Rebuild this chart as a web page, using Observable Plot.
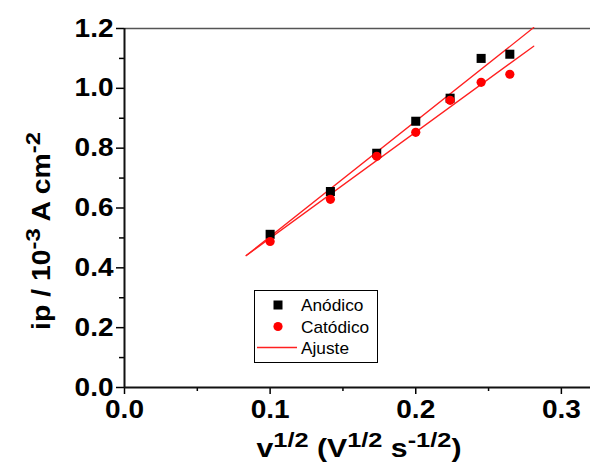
<!DOCTYPE html>
<html><head><meta charset="utf-8">
<script src="https://cdn.jsdelivr.net/npm/d3@7"></script>
<script src="https://cdn.jsdelivr.net/npm/@observablehq/plot@0.6"></script>
<style>body{margin:0;background:#fff}</style>
</head><body><div id="chart"></div>
<script>
const xVals = [0.1, 0.1414, 0.1732, 0.2, 0.2236, 0.2449, 0.2646];
const anodico = [0.512, 0.655, 0.783, 0.89, 0.967, 1.10, 1.114];
const catodico = [0.488, 0.629, 0.773, 0.853, 0.96, 1.02, 1.047];
const fitX = [0.0836, 0.281];
const fitAnodico = [0.441, 1.203];
const fitCatodico = [0.441, 1.141];
const xTicks = [0, 0.1, 0.2, 0.3];
const xMinor = [0.05, 0.15, 0.25];
const yTicks = [0, 0.2, 0.4, 0.6, 0.8, 1.0, 1.2];
const yMinor = [0.1, 0.3, 0.5, 0.7, 0.9, 1.1];
const legendLabels = ["Anódico", "Catódico", "Ajuste"];

const ptsA = xVals.map((x, i) => ({x, y: anodico[i]}));
const ptsC = xVals.map((x, i) => ({x, y: catodico[i]}));
const lineA = fitX.map((x, i) => ({x, y: fitAnodico[i]}));
const lineC = fitX.map((x, i) => ({x, y: fitCatodico[i]}));

const font = "Liberation Sans, Arial, sans-serif";
const svg = Plot.plot({
  width: 591, height: 464,
  marginLeft: 124, marginRight: 1, marginTop: 28, marginBottom: 77,
  style: {fontFamily: font, background: "#fff", color: "#000", overflow: "visible"},
  x: {domain: [0, 0.32]},
  y: {domain: [0, 1.2]},
  marks: [
    Plot.axisX({ticks: xTicks, tickSize: 7, tickPadding: 6, tickFormat: d3.format(".1f"), fontSize: 25, fontWeight: "bold", label: null, strokeWidth: 1.5}),
    Plot.axisX({ticks: xMinor, tickSize: 4, tickFormat: () => "", label: null, strokeWidth: 1.5}),
    Plot.axisY({ticks: yTicks, tickSize: 8, tickPadding: 3, tickFormat: d3.format(".1f"), fontSize: 25, fontWeight: "bold", label: null, strokeWidth: 1.5}),
    Plot.axisY({ticks: yMinor, tickSize: 5, tickFormat: () => "", label: null, strokeWidth: 1.5}),
    Plot.ruleY([1.2], {stroke: "#555", strokeWidth: 1.5}),
    Plot.ruleX([0], {stroke: "#111", strokeWidth: 2}),
    Plot.ruleY([0], {stroke: "#111", strokeWidth: 2}),
    Plot.line(lineA, {x: "x", y: "y", stroke: "#ff2020", strokeWidth: 1.3}),
    Plot.line(lineC, {x: "x", y: "y", stroke: "#ff2020", strokeWidth: 1.3}),
    Plot.dot(ptsA, {x: "x", y: "y", symbol: "square", r: 5.1, fill: "#000", stroke: "none"}),
    Plot.dot(ptsC, {x: "x", y: "y", symbol: "circle", r: 4.6, fill: "#ff0000", stroke: "none"})
  ]
});
document.getElementById("chart").appendChild(svg);

const s = d3.select(svg);
// horizontally stretch tick labels to match the reference
s.selectAll("g[aria-label='x-axis tick label'] text, g[aria-label='y-axis tick label'] text").each(function() {
  const t = this.getAttribute("transform") || "";
  this.setAttribute("transform", t + " scale(1.12,1)");
});

function richLabel(parts, mainSize, supSize) {
  const t = s.append("text")
    .attr("text-anchor", "middle")
    .attr("font-family", font).attr("font-weight", "bold").attr("font-size", mainSize).attr("fill", "#000");
  let raised = false;
  for (const [str, sup] of parts) {
    const sp = t.append("tspan").text(str);
    if (sup && !raised) { sp.attr("dy", -10).attr("font-size", supSize); raised = true; }
    else if (sup) { sp.attr("font-size", supSize); }
    else if (!sup && raised) { sp.attr("dy", 10); raised = false; }
  }
  return t;
}
// y label
const yl = richLabel([["ip / 10", false], ["-3", true], [" A cm", false], ["-2", true]], 25, 21);
const yw = yl.node().getBBox().width;
yl.attr("transform", `translate(50,231) rotate(-90) scale(${198 / yw},1)`);
// x label
const xl = richLabel([["v", false], ["1/2", true], [" (V", false], ["1/2", true], [" s", false], ["-1/2", true], [")", false]], 25, 21);
const xw = xl.node().getBBox().width;
xl.attr("transform", `translate(359,457) scale(${205 / xw},1)`);

// legend
const lg = s.append("g").attr("font-family", font).attr("font-size", 16).attr("fill", "#000").attr("text-anchor", "start");
lg.append("rect").attr("x", 254.5).attr("y", 290.5).attr("width", 123).attr("height", 72)
  .attr("fill", "#fff").attr("stroke", "#000").attr("stroke-width", 1);
lg.append("rect").attr("x", 273.5).attr("y", 300.5).attr("width", 9).attr("height", 9).attr("fill", "#000");
lg.append("circle").attr("cx", 278).attr("cy", 326.5).attr("r", 4.6).attr("fill", "#ff0000");
lg.append("line").attr("x1", 257).attr("x2", 297).attr("y1", 347.5).attr("y2", 347.5).attr("stroke", "#ff2020").attr("stroke-width", 1.3);
const ly = [311, 332.5, 354];
legendLabels.forEach((lab, i) => {
  lg.append("text").attr("transform", `translate(301,${ly[i]}) scale(1.08,1)`).text(lab);
});
</script></body></html>
